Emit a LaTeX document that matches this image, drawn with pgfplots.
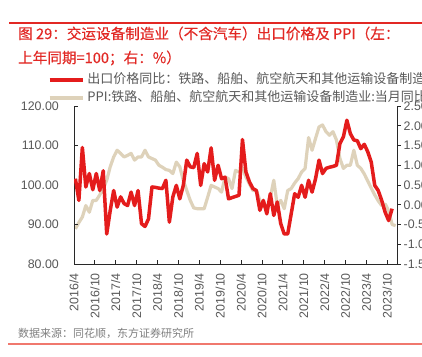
\documentclass[border=0pt]{standalone}
\usepackage{fontspec}
\setmainfont{Liberation Sans}
\newfontfamily\cjk{Noto Sans CJK SC}
\newfontfamily\cjkt[FakeBold=0.35]{Noto Sans CJK SC}
\usepackage{pgfplots}
\usepackage{pgfplotstable}
\pgfplotsset{compat=1.18}
\definecolor{titlered}{RGB}{226,40,36}
\definecolor{botline}{RGB}{240,120,110}
\definecolor{sred}{RGB}{228,28,28}
\definecolor{sbeige}{RGB}{222,210,186}
\definecolor{tgray}{RGB}{89,89,89}
\definecolor{sgray}{RGB}{128,128,128}
\definecolor{axgray}{RGB}{40,40,40}

\pgfplotstableread{
k v
0 101.6
1 96.1
2 109.5
3 99.5
4 102.9
5 98.8
6 102.9
7 98.6
8 103.6
9 87.6
10 93.5
11 98.6
12 94.4
13 97.0
14 95.3
15 94.8
16 98.2
17 94.8
18 98.6
19 90.2
20 89.5
21 91.4
22 99.5
23 99.4
24 99.2
25 99.1
26 101.2
27 90.6
28 97.0
29 99.9
30 96.5
31 99.9
32 106.3
33 104.6
34 104.4
35 108.0
36 99.9
37 105.4
38 103.3
39 109.4
40 101.2
41 105.0
42 101.6
43 102.0
44 96.5
45 96.8
46 97.1
47 97.4
48 111.5
49 103.3
50 100.8
51 99.1
52 98.6
53 93.6
54 96.1
55 92.7
56 97.8
57 92.3
58 95.7
59 90.2
60 87.6
61 87.6
62 92.7
63 97.8
64 96.9
65 99.9
66 96.9
67 101.2
68 98.2
69 101.6
70 106.3
71 102.9
72 104.2
73 104.5
74 104.7
75 105.0
76 110.5
77 112.2
78 116.4
79 113.0
80 111.4
81 111.2
82 109.2
83 110.3
84 108.4
85 105.8
86 99.9
87 98.6
88 96.1
89 93.1
90 91.0
91 94.0
}\redtab

\pgfplotstableread{
k v
0 -0.61
1 -0.45
2 -0.31
3 -0.02
4 -0.19
5 0.11
6 0.11
7 0.25
8 0.40
9 0.62
10 0.96
11 1.21
12 1.38
13 1.30
14 1.21
15 1.25
16 1.30
17 1.13
18 1.21
19 1.21
20 1.38
21 1.21
22 1.17
23 1.13
24 1.00
25 0.95
26 0.89
27 0.87
28 0.79
29 1.08
30 0.96
31 0.62
32 0.36
33 0.11
34 -0.08
35 -0.10
36 -0.10
37 -0.10
38 0.19
39 0.49
40 0.45
41 0.41
42 0.32
43 0.70
44 0.66
45 0.41
46 0.87
47 0.83
48 0.92
49 0.70
50 0.53
51 0.36
52 0.36
53 0.11
54 -0.02
55 -0.10
56 0.19
57 0.62
58 -0.02
59 0.11
60 -0.10
61 0.36
62 0.41
63 0.55
64 0.66
65 0.83
66 0.92
67 1.70
68 1.38
69 1.68
70 1.97
71 2.02
72 1.85
73 1.76
74 1.85
75 1.64
76 1.17
77 0.92
78 1.00
79 1.00
80 1.38
81 1.00
82 0.92
83 0.78
84 0.60
85 0.42
86 0.25
87 0.10
88 -0.02
89 0.02
90 -0.15
91 -0.50
92 -0.53
}\ppitab

\pgfplotsset{
  common/.style={
    width=323bp, height=158bp, scale only axis,
    at={(74bp,93bp)}, anchor=south west,
    xmin=-0.4, xmax=92.4,
    clip=true,
    axis line style={-, draw=axgray, line width=0.9bp},
    every outer x axis line/.append style={-},
    every outer y axis line/.append style={-},
    major tick length=3.5bp,
    tick style={draw=axgray, line width=0.8bp},
    tick label style={font=\fontsize{12.4bp}{14bp}\selectfont, text=tgray, inner sep=0pt},
    /pgf/number format/assume math mode=true,
    yticklabel style={/pgf/number format/.cd, fixed, fixed zerofill, precision=2},
  }
}

\begin{document}
\begin{tikzpicture}
\useasboundingbox (0,0) rectangle (422bp,357bp);
\fill[white] (0,0) rectangle (422bp,357bp);
\draw[titlered, line width=1.2bp] (9bp,334bp) -- (422bp,334bp);
\node[anchor=west, inner sep=0pt, text=titlered, font=\cjkt\fontsize{14.6bp}{16bp}\selectfont] at (18bp,323.5bp) {图 29：交运设备制造业（不含汽车）出口价格及 PPI（左：};
\node[anchor=west, inner sep=0pt, text=titlered, font=\cjkt\fontsize{14.6bp}{16bp}\selectfont] at (18bp,299bp) {上年同期=100；右：\%）};
\node[anchor=west, inner sep=0pt, text=sgray, font=\cjk\fontsize{11bp}{12bp}\selectfont] at (18bp,24bp) {数据来源：同花顺，东方证券研究所};
\draw[botline, line width=1.2bp] (8bp,13bp) -- (422bp,13bp);

% right axis (PPI)
\begin{axis}[common,
  ymin=-1.5, ymax=2.5, ytick={-1.5,-1,...,2.5},
  axis y line*=right, axis x line=none,
  tick align=outside,
  yticklabel shift=3bp,
  legend style={at={(-0.0805,1.2057)}, anchor=north west, draw=none, fill=none,
    inner sep=0pt, outer sep=0pt, row sep=5bp, column sep=3bp,
    font=\cjk\fontsize{13bp}{15bp}\selectfont,
    nodes={inner sep=0pt, text=tgray, text height=9.5bp, text depth=3.5bp}},
  legend cell align=left,
  legend image code/.code={\draw[#1] (0bp,0bp) -- (33bp,0bp);},
]
\addlegendimage{sred, line width=3.5bp}
\addlegendentry{出口价格同比：铁路、船舶、航空航天和其他运输设备制造业}
\addplot[sbeige, line width=3.2bp, line join=round, no marks] table[x=k,y=v] {\ppitab};
\addlegendentry{PPI:铁路、船舶、航空航天和其他运输设备制造业:当月同比}
\end{axis}

% left axis (export price)
\begin{axis}[common,
  ymin=80, ymax=120, ytick={80,90,...,120},
  axis x line*=bottom, axis y line*=left,
  tick align=inside,
  yticklabel shift=15bp,
  xtick={-0.4,5.6,11.6,17.6,23.6,29.6,35.6,41.6,47.6,53.6,59.6,65.6,71.6,77.6,83.6,89.6},
  xticklabels={2016/4,2016/10,2017/4,2017/10,2018/4,2018/10,2019/4,2019/10,2020/4,2020/10,2021/4,2021/10,2022/4,2022/10,2023/4,2023/10},
  xticklabel style={rotate=90, anchor=east},
  xticklabel shift=9bp,
]
\addplot[sred, line width=3.5bp, line join=round, no marks] table[x=k,y=v] {\redtab};
\end{axis}
\end{tikzpicture}
\end{document}
